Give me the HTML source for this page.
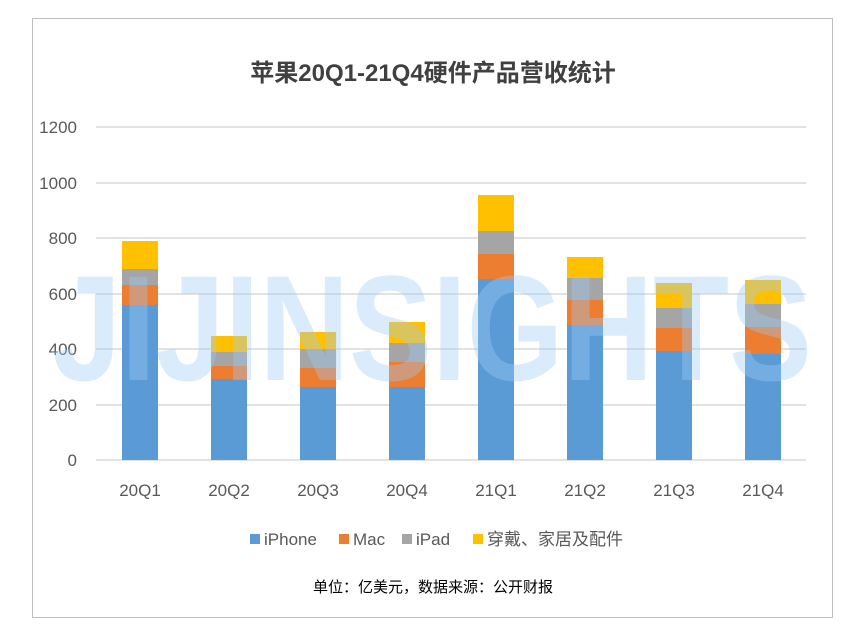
<!DOCTYPE html>
<html><head><meta charset="utf-8"><style>
html,body{margin:0;padding:0;background:#fff;}
</style></head><body>
<svg width="866" height="633" xmlns="http://www.w3.org/2000/svg" font-family="'Liberation Sans','Noto Sans CJK SC',sans-serif">
<rect x="0" y="0" width="866" height="633" fill="#fff"/>
<rect x="32.5" y="18.5" width="800" height="599" fill="none" stroke="#bfbfbf"/>
<text x="433" y="81" text-anchor="middle" font-size="24" font-weight="bold" fill="#404040">苹果20Q1-21Q4硬件产品营收统计</text>
<g stroke="#d9d9d9" stroke-width="1.5">
<line x1="96" x2="806" y1="127" y2="127"/><line x1="96" x2="806" y1="183" y2="183"/>
<line x1="96" x2="806" y1="238" y2="238"/><line x1="96" x2="806" y1="294" y2="294"/>
<line x1="96" x2="806" y1="349" y2="349"/><line x1="96" x2="806" y1="405" y2="405"/>
<line x1="96" x2="806" y1="460" y2="460"/>
</g>
<g font-size="17" fill="#595959" text-anchor="end">
<text x="77" y="133">1200</text><text x="77" y="189">1000</text><text x="77" y="244">800</text>
<text x="77" y="300">600</text><text x="77" y="355">400</text><text x="77" y="411">200</text><text x="77" y="466">0</text>
</g>
<g id="bars">
<rect x="122" y="305" width="36" height="155" fill="#5b9bd5"/><rect x="122" y="285" width="36" height="20" fill="#ed7d31"/><rect x="122" y="269" width="36" height="16" fill="#a5a5a5"/><rect x="122" y="241" width="36" height="28" fill="#ffc000"/>
<rect x="211" y="379" width="36" height="81" fill="#5b9bd5"/><rect x="211" y="366" width="36" height="13" fill="#ed7d31"/><rect x="211" y="352" width="36" height="14" fill="#a5a5a5"/><rect x="211" y="336" width="36" height="16" fill="#ffc000"/>
<rect x="300" y="387" width="36" height="73" fill="#5b9bd5"/><rect x="300" y="368" width="36" height="19" fill="#ed7d31"/><rect x="300" y="349" width="36" height="19" fill="#a5a5a5"/><rect x="300" y="332" width="36" height="17" fill="#ffc000"/>
<rect x="389" y="387" width="36" height="73" fill="#5b9bd5"/><rect x="389" y="362" width="36" height="25" fill="#ed7d31"/><rect x="389" y="343" width="36" height="19" fill="#a5a5a5"/><rect x="389" y="322" width="36" height="21" fill="#ffc000"/>
<rect x="478" y="279" width="36" height="181" fill="#5b9bd5"/><rect x="478" y="254" width="36" height="25" fill="#ed7d31"/><rect x="478" y="231" width="36" height="23" fill="#a5a5a5"/><rect x="478" y="195" width="36" height="36" fill="#ffc000"/>
<rect x="567" y="325" width="36" height="135" fill="#5b9bd5"/><rect x="567" y="300" width="36" height="25" fill="#ed7d31"/><rect x="567" y="278" width="36" height="22" fill="#a5a5a5"/><rect x="567" y="257" width="36" height="21" fill="#ffc000"/>
<rect x="656" y="351" width="36" height="109" fill="#5b9bd5"/><rect x="656" y="328" width="36" height="23" fill="#ed7d31"/><rect x="656" y="308" width="36" height="20" fill="#a5a5a5"/><rect x="656" y="283" width="36" height="25" fill="#ffc000"/>
<rect x="745" y="354" width="36" height="106" fill="#5b9bd5"/><rect x="745" y="327" width="36" height="27" fill="#ed7d31"/><rect x="745" y="304" width="36" height="23" fill="#a5a5a5"/><rect x="745" y="280" width="36" height="24" fill="#ffc000"/>
</g>
<text x="52" y="380" font-size="150" font-weight="bold" fill="#9fcaf5" fill-opacity="0.38" textLength="760" lengthAdjust="spacingAndGlyphs">JIJINSIGHTS</text>
<g font-size="17" fill="#595959" text-anchor="middle">
<text x="140" y="496">20Q1</text><text x="229" y="496">20Q2</text><text x="318" y="496">20Q3</text><text x="407" y="496">20Q4</text>
<text x="496" y="496">21Q1</text><text x="585" y="496">21Q2</text><text x="674" y="496">21Q3</text><text x="763" y="496">21Q4</text>
</g>
<g font-size="17" fill="#595959">
<rect x="250" y="534" width="10" height="10" fill="#5b9bd5"/><text x="264" y="545">iPhone</text>
<rect x="339" y="534" width="10" height="10" fill="#ed7d31"/><text x="353" y="545">Mac</text>
<rect x="402" y="534" width="10" height="10" fill="#a5a5a5"/><text x="416" y="545">iPad</text>
<rect x="473" y="534" width="10" height="10" fill="#ffc000"/><text x="487" y="545">穿戴、家居及配件</text>
</g>
<text x="433" y="592" text-anchor="middle" font-size="15" fill="#000">单位：亿美元，数据来源：公开财报</text>
</svg>
</body></html>
